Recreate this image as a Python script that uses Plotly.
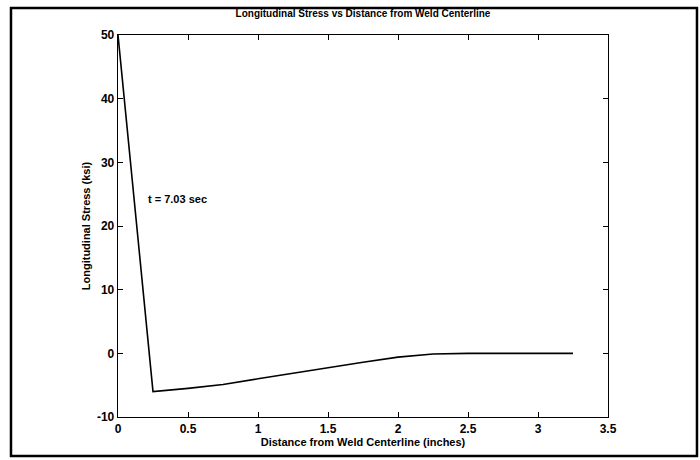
import plotly.graph_objects as go

distance_in = [0.0, 0.25, 0.5, 0.75, 1.0, 1.25, 1.5, 1.75, 2.0, 2.25, 2.5, 2.75, 3.0, 3.25]
stress_ksi = [50.0, -6.0, -5.5, -4.9, -4.0, -3.1, -2.2, -1.4, -0.6, -0.1, 0.0, 0.0, 0.0, 0.0]

x_ticks = [0, 0.5, 1, 1.5, 2, 2.5, 3, 3.5]
x_tick_labels = ["0", "0.5", "1", "1.5", "2", "2.5", "3", "3.5"]
y_ticks = [-10, 0, 10, 20, 30, 40, 50]
y_tick_labels = ["-10", "0", "10", "20", "30", "40", "50"]

title_text = "Longitudinal Stress vs Distance from Weld Centerline"
x_title = "Distance from Weld Centerline (inches)"
y_title = "Longitudinal Stress (ksi)"
note_text = "t = 7.03 sec"
note_pos = (0.2, 24.3)

FONT = "Liberation Sans, Arial, sans-serif"

fig = go.Figure()
fig.add_trace(go.Scatter(
    x=distance_in, y=stress_ksi, mode="lines",
    line=dict(color="black", width=1.6), showlegend=False, hoverinfo="skip",
))

axis_common = dict(
    showgrid=False, zeroline=False, showline=True, linecolor="black", linewidth=1.3,
    mirror="ticks", ticks="inside", ticklen=5, tickcolor="black", tickwidth=1,
    tickfont=dict(family=FONT, size=12, color="black", weight="bold"),
)

fig.update_layout(
    width=700, height=460,
    margin=dict(l=118, r=92, t=35, b=43),
    paper_bgcolor="white", plot_bgcolor="white",
    font=dict(family=FONT, color="black"),
    hovermode=False,
    title=dict(text=title_text, x=0.5, xref="paper", y=1.0, yref="container",
               yanchor="top", pad=dict(t=10),
               font=dict(family=FONT, size=10, color="black", weight="bold")),
    xaxis=dict(range=[0, 3.5], tickvals=x_ticks, ticktext=x_tick_labels,
               title=dict(text=x_title, standoff=0,
                          font=dict(family=FONT, size=11, color="black", weight="bold")),
               **axis_common),
    yaxis=dict(range=[-10, 50], tickvals=y_ticks, ticktext=y_tick_labels,
               title=dict(text=y_title, standoff=4,
                          font=dict(family=FONT, size=11, color="black", weight="bold")),
               **axis_common),
    annotations=[dict(x=note_pos[0], y=note_pos[1], xref="x", yref="y", text=note_text,
                      showarrow=False, xanchor="left", yanchor="middle",
                      font=dict(family=FONT, size=11, color="black", weight="bold"))],
    shapes=[dict(type="rect", xref="paper", yref="paper",
                 x0=-0.2184, x1=1.1816, y0=-0.1021, y1=1.0707,
                 line=dict(color="black", width=2.5), fillcolor="rgba(0,0,0,0)")],
)

fig.write_html("out.html", config={"displayModeBar": False, "staticPlot": True},
               post_script="document.body.style.margin='0';document.body.style.overflow='hidden';")
